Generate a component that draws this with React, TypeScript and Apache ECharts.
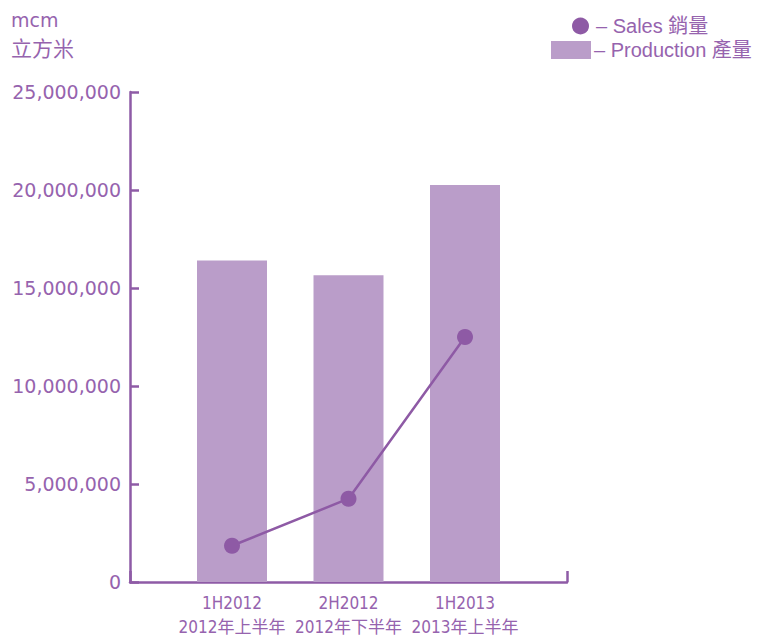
import React, { useEffect, useRef } from "react";
import * as echarts from "echarts";

const categories = ["1H2012\n2012年上半年", "2H2012\n2012年下半年", "1H2013\n2013年上半年"];
const production = [16400000, 15650000, 20250000];
const sales = [1850000, 4250000, 12500000];
const yTicks = { min: 0, max: 25000000, interval: 5000000 };

const TEXT = "#9663AE";
const AXIS = "#8E5BA6";
const BAR = "#BA9DC9";
const LINE = "#8E5AA5";

export default function App() {
  const ref = useRef<HTMLDivElement>(null);
  useEffect(() => {
    const chart = echarts.init(ref.current!, null, { renderer: "svg" });
    const fmt = (v: number) => String(v).replace(/\B(?=(\d{3})+(?!\d))/g, ",");
    const legendText = { color: TEXT, fontSize: 20, fontFamily: "Liberation Sans, Noto Sans CJK TC, sans-serif", padding: [0, 0, 0, -2] };
    chart.setOption({
      animation: false,
      title: {
        left: 11,
        top: 7,
        padding: 0,
        text: "{a|mcm}\n{b|立方米}",
        textStyle: {
          fontWeight: "normal",
          rich: {
            a: { fontSize: 19, color: TEXT, fontFamily: "DejaVu Sans", lineHeight: 26, fontWeight: "normal" },
            b: { fontSize: 21, color: TEXT, fontFamily: "Noto Sans CJK TC", lineHeight: 27, fontWeight: "normal" },
          },
        },
      },
      legend: [
        {
          data: [{ name: "Sales 銷量", icon: "circle" }],
          left: 572,
          top: 16,
          padding: 0,
          itemWidth: 17,
          itemHeight: 17,
          itemGap: 0,
          formatter: (n: string) => "– " + n,
          textStyle: { ...legendText, padding: [0, 0, 0, 2] },
        },
        {
          data: [{ name: "Production 產量", icon: "rect" }],
          left: 551,
          top: 40,
          padding: 0,
          itemWidth: 40,
          itemHeight: 18,
          itemGap: 0,
          formatter: (n: string) => "– " + n,
          textStyle: legendText,
        },
      ],
      grid: [
        { left: 130, right: 193, top: 92, bottom: 55, outerBoundsMode: "none" },
        { left: 173.75, right: 236.75, top: 92, bottom: 55, outerBoundsMode: "none" },
      ],
      xAxis: [
        {
          gridIndex: 0,
          type: "value",
          min: 0,
          max: 1,
          interval: 1,
          axisLine: { show: true, lineStyle: { color: AXIS, width: 2.5 } },
          axisTick: { show: true, inside: true, length: 11, lineStyle: { color: AXIS, width: 2.5 } },
          axisLabel: { show: false },
          splitLine: { show: false },
        },
        {
          gridIndex: 1,
          type: "category",
          data: categories,
          axisLine: { show: false },
          axisTick: { show: false },
          axisLabel: {
            interval: 0,
            color: TEXT,
            fontSize: 17,
            lineHeight: 24,
            margin: 9,
            fontFamily: "Liberation Sans Narrow, DejaVu Sans Condensed, Noto Sans CJK TC, sans-serif",
          },
        },
      ],
      yAxis: [
        {
          gridIndex: 0,
          type: "value",
          ...yTicks,
          axisLine: { show: true, lineStyle: { color: AXIS, width: 2.5 } },
          axisTick: { show: true, inside: true, length: 9, lineStyle: { color: AXIS, width: 2.5 } },
          axisLabel: { color: TEXT, fontSize: 19, fontFamily: "DejaVu Sans", margin: 9, formatter: fmt },
          splitLine: { show: false },
        },
        {
          gridIndex: 1,
          type: "value",
          ...yTicks,
          show: false,
          splitLine: { show: false },
        },
      ],
      series: [
        {
          name: "Production 產量",
          type: "bar",
          xAxisIndex: 1,
          yAxisIndex: 1,
          data: production,
          barWidth: 70,
          itemStyle: { color: BAR },
        },
        {
          name: "Sales 銷量",
          type: "line",
          xAxisIndex: 1,
          yAxisIndex: 1,
          data: sales,
          symbol: "circle",
          symbolSize: 16,
          lineStyle: { color: LINE, width: 2.5 },
          itemStyle: { color: LINE },
        },
      ],
    });
    return () => chart.dispose();
  }, []);
  return <div ref={ref} style={{ position: "fixed", left: 0, top: 0, width: 760, height: 637, background: "#fff" }} />;
}
